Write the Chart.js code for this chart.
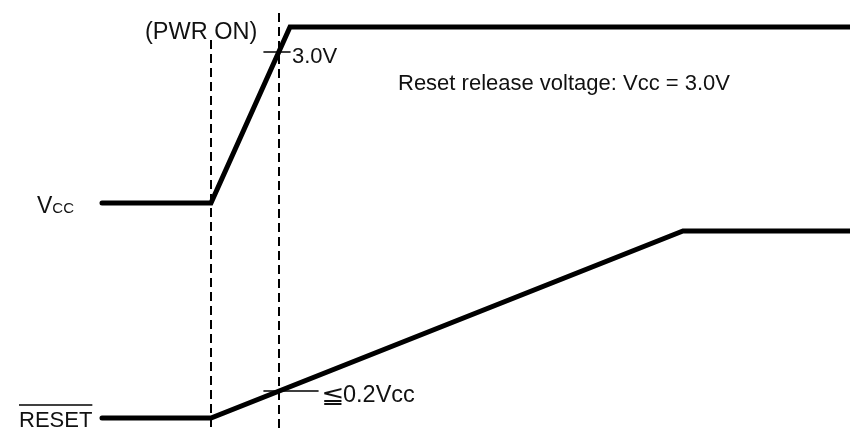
<!DOCTYPE html>
<html>
<head>
<meta charset="utf-8">
<script src="https://cdn.jsdelivr.net/npm/chart.js@4/dist/chart.umd.min.js"></script>
<style>
  html, body { margin: 0; padding: 0; background: #fff; }
  #timing { display: block; }
</style>
</head>
<body>
<canvas id="timing" width="850" height="430"></canvas>
<script>
// waveform corner points (x = time, y = level, drawn top-down)
const vccX = [102, 211, 290, 850];
const vccY = [203, 203, 27, 27];
const resetX = [102, 211, 683, 850];
const resetY = [418, 418, 231, 231];

// dashed marker lines: power on start, reset release point
const markerX = [211, 279];
const markerTop = [40, 13];

// threshold ticks
const tick30X = [264, 290];
const tick30Y = 52;
const tick02X = [264, 318];
const tick02Y = 391;

const labels = {
  pwr: '(PWR ON)',
  v30: '3.0V',
  le: '\u2266',
  v02: '0.2Vcc',
  note: 'Reset release voltage: Vcc = 3.0V',
  reset: 'RESET'
};

function toPoints(xs, ys) {
  let pts = [];
  for (let i = 0; i < xs.length; i++) {
    pts.push({ x: xs[i], y: Array.isArray(ys) ? ys[i] : ys });
  }
  return pts;
}

function lineSet(pts, width, dash) {
  return {
    data: pts,
    showLine: true,
    borderColor: '#000',
    borderWidth: width,
    borderDash: dash || [],
    borderCapStyle: dash ? 'butt' : 'round',
    borderJoinStyle: 'miter',
    pointRadius: 0,
    tension: 0,
    fill: false
  };
}

// texts drawn at data positions through the scales
const textPlugin = {
  id: 'timingText',
  afterDatasetsDraw(chart) {
    const ctx = chart.ctx;
    const sx = chart.scales.x, sy = chart.scales.y;
    const px = v => sx.getPixelForValue(v);
    const py = v => sy.getPixelForValue(v);
    ctx.save();
    ctx.fillStyle = '#111';
    ctx.textBaseline = 'alphabetic';
    ctx.font = '23.5px "Liberation Sans", Arial, sans-serif';
    ctx.fillText(labels.pwr, px(145), py(39));
    ctx.font = '22px "Liberation Sans", Arial, sans-serif';
    ctx.fillText(labels.v30, px(292), py(63));
    ctx.fillText(labels.note, px(398), py(90));

    // "≦0.2Vcc": symbol a bit wider than the digits
    ctx.font = '24px "DejaVu Sans", sans-serif';
    ctx.save();
    ctx.translate(px(321), py(403));
    ctx.scale(1.15, 1);
    ctx.fillText(labels.le, 0, 0);
    ctx.restore();
    ctx.font = '23.5px "Liberation Sans", Arial, sans-serif';
    ctx.fillText(labels.v02, px(343), py(402));

    // Vcc with small caps subscript
    ctx.font = '23px "Liberation Sans", Arial, sans-serif';
    ctx.fillText('V', px(37), py(213));
    let w = ctx.measureText('V').width;
    ctx.font = '15px "Liberation Sans", Arial, sans-serif';
    ctx.fillText('CC', px(37) + w, py(213));

    // RESET with overline
    ctx.font = '22px "Liberation Sans", Arial, sans-serif';
    ctx.fillText(labels.reset, px(19), py(427));
    let rw = ctx.measureText(labels.reset).width;
    ctx.lineWidth = 1.5;
    ctx.strokeStyle = '#000';
    ctx.beginPath();
    ctx.moveTo(px(19), py(405));
    ctx.lineTo(px(19) + rw, py(405));
    ctx.stroke();
    ctx.restore();
  }
};

let datasets = [
  lineSet(toPoints(vccX, vccY), 5),
  lineSet(toPoints(resetX, resetY), 5),
  lineSet(toPoints(tick30X, tick30Y), 1.6),
  lineSet(toPoints(tick02X, tick02Y), 1.6)
];
for (let i = 0; i < markerX.length; i++) {
  datasets.push(lineSet([{ x: markerX[i], y: markerTop[i] }, { x: markerX[i], y: 430 }], 2, [9, 5]));
}

new Chart(document.getElementById('timing'), {
  type: 'scatter',
  data: { datasets: datasets },
  options: {
    responsive: false,
    animation: false,
    layout: { padding: 0 },
    plugins: { legend: { display: false }, tooltip: { enabled: false } },
    scales: {
      x: { type: 'linear', min: 0, max: 850, display: false },
      y: { type: 'linear', min: 0, max: 430, reverse: true, display: false }
    }
  },
  plugins: [textPlugin]
});
</script>
</body>
</html>
